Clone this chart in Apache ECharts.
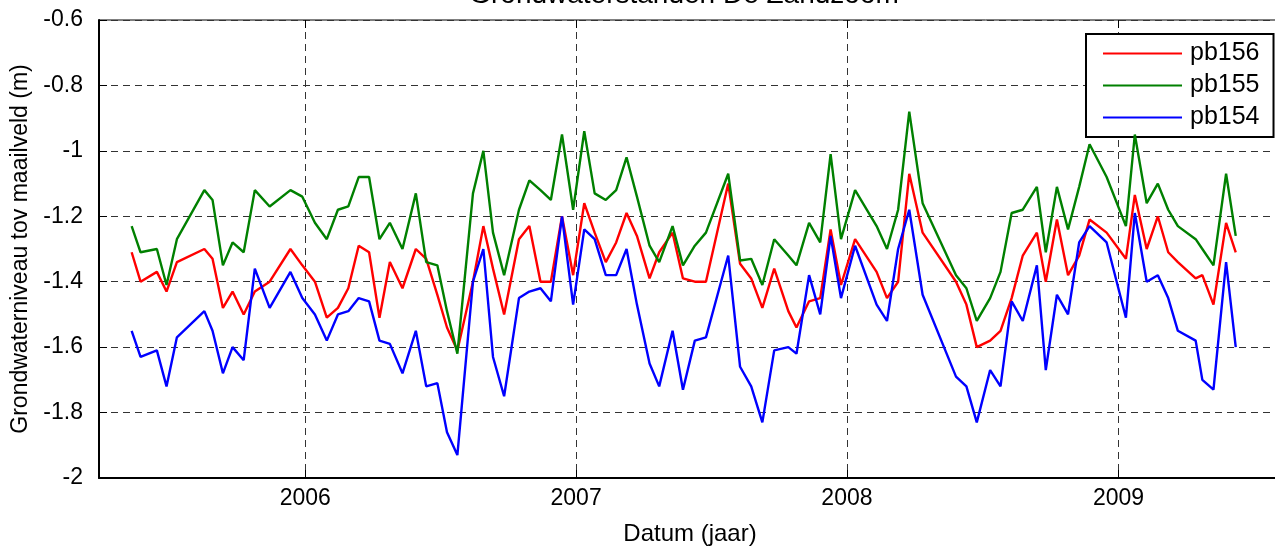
<!DOCTYPE html>
<html>
<head>
<meta charset="utf-8">
<title>Grondwaterstanden De Zandzoom</title>
<script src="https://cdn.jsdelivr.net/npm/echarts@6.0.0/dist/echarts.min.js"></script>
<style>
    html, body { margin: 0; padding: 0; background: #fff; overflow: hidden; }
    #chart { width: 1281px; height: 551px; }
</style>
</head>
<body>
<div id="chart"></div>
<script>
// Measurement dates (roughly every two weeks)
const dates = [
    '2005-05-12','2005-05-24','2005-06-15','2005-06-28','2005-07-12','2005-08-18','2005-08-29','2005-09-12','2005-09-25','2005-10-10',
    '2005-10-25','2005-11-14','2005-12-12','2005-12-28','2006-01-14','2006-01-30','2006-02-14','2006-02-28','2006-03-14','2006-03-28','2006-04-11',
    '2006-04-25','2006-05-12','2006-05-30','2006-06-13','2006-06-28','2006-07-11','2006-07-25','2006-08-15','2006-08-29','2006-09-11',
    '2006-09-26','2006-10-16','2006-10-30','2006-11-14','2006-11-28','2006-12-13','2006-12-28','2007-01-12','2007-01-26','2007-02-10',
    '2007-02-24','2007-03-10','2007-03-24','2007-04-10','2007-04-23',
    '2007-05-11','2007-05-25','2007-06-10','2007-06-25','2007-07-25','2007-08-10','2007-08-25','2007-09-09','2007-09-25','2007-10-14',
    '2007-10-25','2007-11-11','2007-11-26','2007-12-10','2007-12-24','2008-01-12','2008-02-10','2008-02-24','2008-03-10','2008-03-25',
    '2008-04-12','2008-05-27',
    '2008-06-10','2008-06-24','2008-07-12','2008-07-26','2008-08-10','2008-08-25','2008-09-13','2008-09-25','2008-10-10','2008-10-25',
    '2008-11-09','2008-11-23','2008-12-16','2009-01-11','2009-01-23','2009-02-08','2009-02-23','2009-03-09','2009-03-22','2009-04-15',
    '2009-04-24','2009-05-09','2009-05-26','2009-06-08'
];

// Groundwater level below surface (m)
const pb156 = [
    -1.31, -1.40, -1.37, -1.43, -1.34, -1.30, -1.33, -1.48, -1.43, -1.50, -1.43, -1.40, -1.30, -1.35, -1.40, -1.51, -1.48, -1.42, -1.29, -1.31, -1.51,
    -1.34, -1.42, -1.30, -1.33, -1.44, -1.54, -1.61, -1.40, -1.23, -1.36, -1.50, -1.27, -1.23, -1.40, -1.40, -1.20, -1.38, -1.16, -1.25, -1.34, -1.28, -1.19, -1.26, -1.39, -1.31,
    -1.25, -1.39, -1.40, -1.40, -1.10, -1.345, -1.39, -1.48, -1.36, -1.49, -1.54, -1.46, -1.45, -1.24, -1.41, -1.27, -1.37, -1.45, -1.40, -1.07, -1.25, -1.40,
    -1.47, -1.60, -1.58, -1.55, -1.45, -1.32, -1.25, -1.40, -1.21, -1.38, -1.32, -1.21, -1.25, -1.33, -1.135, -1.30, -1.20, -1.31, -1.34, -1.39, -1.38, -1.47, -1.22, -1.31
];
const pb155 = [
    -1.23, -1.31, -1.30, -1.41, -1.27, -1.12, -1.15, -1.35, -1.28, -1.31, -1.12, -1.17, -1.12, -1.14, -1.22, -1.27, -1.18, -1.17, -1.08, -1.08, -1.27,
    -1.22, -1.30, -1.13, -1.34, -1.35, -1.49, -1.62, -1.13, -1.00, -1.25, -1.38, -1.18, -1.09, -1.12, -1.15, -0.95, -1.18, -0.94, -1.13, -1.15, -1.12, -1.02, -1.14, -1.29, -1.34,
    -1.23, -1.35, -1.29, -1.25, -1.07, -1.335, -1.33, -1.41, -1.27, -1.32, -1.35, -1.22, -1.28, -1.01, -1.27, -1.12, -1.23, -1.30, -1.18, -0.88, -1.16, -1.38,
    -1.42, -1.52, -1.45, -1.37, -1.19, -1.18, -1.11, -1.31, -1.11, -1.24, -1.11, -0.98, -1.08, -1.23, -0.95, -1.16, -1.10, -1.18, -1.23, -1.27, -1.30, -1.35, -1.07, -1.26
];
const pb154 = [
    -1.55, -1.63, -1.61, -1.72, -1.57, -1.49, -1.55, -1.68, -1.60, -1.64, -1.36, -1.48, -1.37, -1.45, -1.50, -1.58, -1.50, -1.49, -1.45, -1.46, -1.58,
    -1.59, -1.68, -1.55, -1.72, -1.71, -1.86, -1.93, -1.40, -1.30, -1.63, -1.75, -1.45, -1.43, -1.42, -1.46, -1.20, -1.47, -1.24, -1.27, -1.38, -1.38, -1.30, -1.47, -1.65, -1.72,
    -1.55, -1.73, -1.58, -1.57, -1.32, -1.66, -1.72, -1.83, -1.61, -1.60, -1.62, -1.38, -1.50, -1.26, -1.45, -1.29, -1.47, -1.52, -1.30, -1.18, -1.44, -1.69,
    -1.72, -1.83, -1.67, -1.72, -1.46, -1.52, -1.35, -1.67, -1.44, -1.50, -1.28, -1.23, -1.28, -1.51, -1.19, -1.40, -1.38, -1.45, -1.55, -1.58, -1.70, -1.73, -1.34, -1.60
];

// Axis ticks and range
const tickYears = [2006, 2007, 2008, 2009];
const xRange = ['2005-03-29', '2009-08-08'];
const seriesNames = ['pb156', 'pb155', 'pb154'];
const seriesColors = ['#ff0000', '#008000', '#0000ff'];

const font = '"Liberation Sans", Arial, Helvetica, sans-serif';

// 'YYYY-MM-DD' -> local timestamp
function toTime(s) {
    const p = s.split('-').map(Number);
    return new Date(p[0], p[1] - 1, p[2]).getTime();
}

const yearTicks = tickYears.map(y => new Date(y, 0, 1).getTime());
const xMin = toTime(xRange[0]);
const xMax = toTime(xRange[1]);

function pairs(values) {
    return dates.map((d, i) => [toTime(d), values[i]]);
}

const chart = echarts.init(document.getElementById('chart'), null, { renderer: 'canvas' });

const option = {
    animation: false,
    backgroundColor: '#fff',
    color: seriesColors,
    textStyle: { fontFamily: font, color: '#000' },
    graphic: [{
        // title, mostly cut off by the top edge like in the original figure
        type: 'text',
        x: 684,
        y: 9,
        z: 10,
        style: {
            text: 'Grondwaterstanden De Zandzoom',
            font: '28px ' + font,
            fill: '#000',
            align: 'center',
            verticalAlign: 'bottom'
        }
    }],
    grid: {
        left: 99,
        top: 20,
        right: 0,
        bottom: 70,
        show: true,
        borderColor: '#000',
        borderWidth: 1
    },
    legend: {
        orient: 'vertical',
        left: 1086,
        top: 34,
        data: seriesNames,
        icon: 'rect',
        itemWidth: 79,
        itemHeight: 2,
        itemGap: 7,
        padding: [7, 14, 7, 17],
        backgroundColor: '#fff',
        borderColor: '#000',
        borderWidth: 2,
        textStyle: { fontSize: 25, color: '#000', fontFamily: font, padding: [0, 0, 0, 3] }
    },
    xAxis: [{
        type: 'value',
        min: xMin,
        max: xMax,
        name: 'Datum (jaar)',
        nameLocation: 'middle',
        nameGap: 44,
        nameTextStyle: { fontSize: 24, color: '#000', fontFamily: font },
        axisLine: { onZero: false, lineStyle: { color: '#000', width: 2 } },
        axisTick: { inside: true, length: 8, customValues: yearTicks, lineStyle: { color: '#000' } },
        axisLabel: {
            customValues: yearTicks,
            margin: 9,
            fontSize: 23,
            color: '#000',
            fontFamily: font,
            formatter: v => String(new Date(v).getFullYear())
        },
        splitLine: { show: true, lineStyle: { color: '#333', type: [7, 5], width: 1 } }
    }, {
        // mirrored ticks on top of the box
        type: 'value',
        position: 'top',
        min: xMin,
        max: xMax,
        axisLine: { show: false },
        axisTick: { show: true, inside: true, length: 8, customValues: yearTicks, lineStyle: { color: '#000' } },
        axisLabel: { show: false },
        splitLine: { show: false }
    }],
    yAxis: {
        type: 'value',
        min: -2,
        max: -0.6,
        interval: 0.2,
        name: 'Grondwaterniveau tov maailveld (m)',
        nameLocation: 'middle',
        nameGap: 64,
        nameTextStyle: { fontSize: 23, color: '#000', fontFamily: font },
        axisLine: { show: true, lineStyle: { color: '#000', width: 2 } },
        axisTick: { show: true, inside: true, length: 8, lineStyle: { color: '#000' } },
        axisLabel: { margin: 16, fontSize: 23, color: '#000', fontFamily: font },
        splitLine: { show: true, lineStyle: { color: '#333', type: [7, 5], width: 1 } }
    },
    series: seriesNames.map((name, i) => ({
        name: name,
        type: 'line',
        data: pairs([pb156, pb155, pb154][i]),
        symbol: 'none',
        showSymbol: false,
        lineStyle: { width: 2.4, color: seriesColors[i] },
        itemStyle: { color: seriesColors[i] },
        z: 3 + i
    }))
};

chart.setOption(option);
</script>
</body>
</html>
